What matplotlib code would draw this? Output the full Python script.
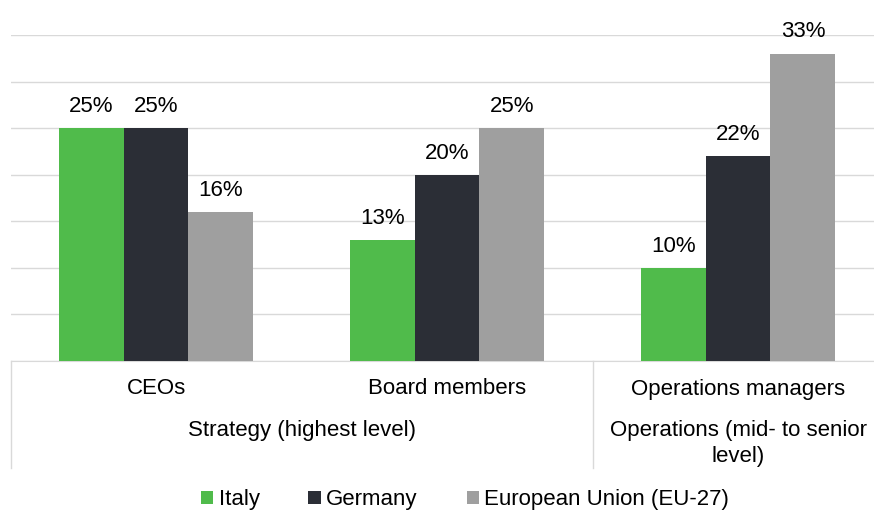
import matplotlib.pyplot as plt
import numpy as np

plt.rcParams['font.family'] = ['Liberation Sans', 'DejaVu Sans']

roles = ['CEOs', 'Board members', 'Operations managers']
levels = ['Strategy (highest level)', 'Operations (mid- to senior\nlevel)']
level_span = [(0, 1), (2, 2)]
series = ['Italy', 'Germany', 'European Union (EU-27)']
italy = [25, 13, 10]
germany = [25, 20, 22]
eu27 = [16, 25, 33]
colors = ['#50bb4b', '#2b2e36', '#9f9f9f']

W, H = 874, 514
FS = 16
fig = plt.figure(figsize=(W / 100, H / 100), dpi=100)
# plot area in pixels
left, right, top, base = 10.5, 883.5, 35, 361
ax = fig.add_axes([left / W, 1 - base / H, (right - left) / W, (base - top) / H])

x = np.arange(len(roles))
bw = 0.223
for i, (vals, col, name) in enumerate(zip([italy, germany, eu27], colors, series)):
    pos = x + (i - 1) * bw
    ax.bar(pos, vals, bw, color=col, label=name, zorder=3)
    for p, v in zip(pos, vals):
        ax.text(p, v + 1.2, f'{v}%', ha='center', va='bottom', fontsize=FS)

ax.set_xlim(-0.5, len(roles) - 0.5)
ax.set_ylim(0, 35)
ax.set_yticks(np.arange(0, 36, 5))
ax.yaxis.grid(True, color='#d9d9d9', linewidth=1)
ax.set_axisbelow(True)
ax.tick_params(left=False, labelleft=False, bottom=False, labelbottom=False)
for s in ['left', 'right', 'top']:
    ax.spines[s].set_visible(False)
ax.spines['bottom'].set_color('#d9d9d9')

# multi-level category axis
trans = ax.get_xaxis_transform()
line_len = (468 - base) / (base - top)
for b in [-0.5, 1.5, 2.5]:
    ax.plot([b, b], [0, -line_len], transform=trans, color='#d9d9d9',
            linewidth=1, clip_on=False)
role_y = -(389 - base) / (base - top)
for xi, r in zip(x, roles):
    ax.text(xi, role_y, r, transform=trans, ha='center', va='center', fontsize=FS)
for (a, b), lv in zip(level_span, levels):
    ax.text((a + b) / 2, -(420 - base) / (base - top), lv, transform=trans,
            ha='center', va='top', fontsize=FS, linespacing=1.3)

fig.legend(loc='center', bbox_to_anchor=(465 / W, 1 - 500 / H), ncol=3,
           frameon=False, fontsize=FS, handlelength=0.55, handleheight=0.55,
           handletextpad=0.25, columnspacing=2.2)

fig.savefig('out.png', dpi=100)
